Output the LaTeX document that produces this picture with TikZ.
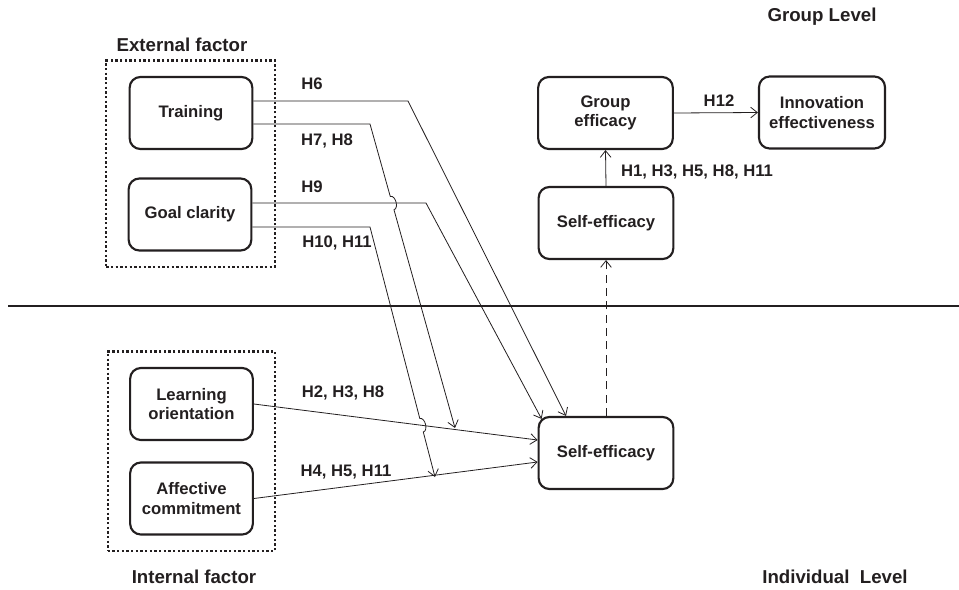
\documentclass[tikz,border=0pt]{standalone}
\usepackage{fontspec}
\setmainfont{Liberation Sans}
\usetikzlibrary{arrows.meta, positioning, fit, calc}
\definecolor{kink}{HTML}{231F20}

\begin{document}
\begin{tikzpicture}[x=0.75pt, y=-0.75pt,
  box/.style={draw=kink, text=kink, line width=1.6pt, rounded corners=8pt, align=center,
    font=\fontsize{12.5}{14.5}\selectfont\bfseries, minimum height=54pt},
  lbox/.style={box, minimum width=92pt},
  rbox/.style={box, minimum width=101pt},
  frame/.style={draw=kink, line width=1.7pt, dash pattern=on 1.7pt off 1.8pt, inner xsep=16pt, inner ysep=11.5pt},
  hlab/.style={font=\fontsize{12.5}{14.5}\selectfont\bfseries, text=kink},
  head/.style={font=\fontsize{14}{16}\selectfont\bfseries, text=kink},
  conn/.style={draw=kink, line width=0.6pt, -{Straight Barb[length=5pt,width=8pt]}},
]
\useasboundingbox (0,0) rectangle (959,589);

% factor boxes
\node[lbox] (train) at (191,113) {Training};
\node[lbox] (goal) at (190,214.5) {Goal clarity};
\node[lbox] (learn) at (191.5,404) {Learning\\orientation};
\node[lbox] (affect) at (191.5,498.5) {Affective\\commitment};
\node[frame, fit=(train)(goal)] (extbox) {};
\node[frame, fit=(learn)(affect)] (intbox) {};

% efficacy boxes
\node[rbox] (selfi) at (606,453) {Self-efficacy};
\node[rbox] (selfg) at (606,223) {Self-efficacy};
\node[rbox] (group) at (605.5,113) {Group\\efficacy};
\node[box, minimum width=94.5pt] (innov) at (822,112.5) {Innovation\\effectiveness};

% headings
\node[head] (exthead) at (182,45) {External factor};
\node[head] (inthead) at (194,577) {Internal factor};
\node[head] (grphead) at (822,17) {Group Level};
\node[head] (indhead) at (835,577) {Individual\ \ Level};

% level divider
\draw[kink, line width=0.8pt] (8,306) -- (959,306);

% bend points
\coordinate (b6) at (408,101);
\coordinate (b78) at (370,124);
\coordinate (e78) at (455,428);
\coordinate (b9) at (426,203);
\coordinate (b1011) at (370,227);
\coordinate (e1011) at (435,477);

% external paths
\draw[conn] (train.east |- b6) -- (b6) -- ([xshift=-30pt]selfi.north);
\draw[conn] (train.east |- b78) -- (b78) -- ($(b78)!0.238!(e78)$)
  to[bend left=90] ($(b78)!0.282!(e78)$) -- (e78);
\draw[conn] (goal.east |- b9) -- (b9) -- ([shift={(4,3)}]selfi.north west);
\draw[conn] (goal.east |- b1011) -- (b1011) -- ($(b1011)!0.766!(e1011)$)
  to[bend left=90] ($(b1011)!0.820!(e1011)$) -- (e1011);

% internal paths
\draw[conn] (learn.east) -- ([yshift=9.75pt]selfi.west);
\draw[conn] (affect.east) -- ([yshift=-6.75pt]selfi.west);

% level links
\draw[conn, dash pattern=on 6pt off 4pt] (selfi.north) -- (selfg.south);
\draw[conn] (selfg.north) -- (group.south);
\draw[conn] (group.east) -- (innov.west);

% hypothesis labels
\node[hlab] (h6) at (312,84) {H6};
\node[hlab] (h78) at (327,141) {H7, H8};
\node[hlab] (h9) at (312,187) {H9};
\node[hlab] (h1011) at (337,243) {H10, H11};
\node[hlab] (h238) at (343,393) {H2, H3, H8};
\node[hlab] (h4511) at (346,472) {H4, H5, H11};
\node[hlab] (h12) at (719,101) {H12};
\node[hlab] (hgrp) at (697,172) {H1, H3, H5, H8, H11};
\end{tikzpicture}
\end{document}
